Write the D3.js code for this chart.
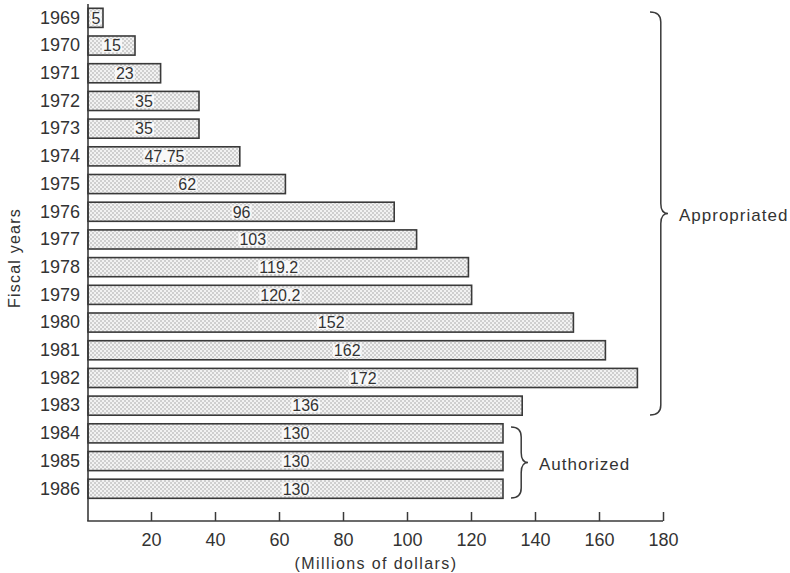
<!DOCTYPE html>
<html>
<head>
<meta charset="utf-8">
<script src="https://cdn.jsdelivr.net/npm/d3@7"></script>
<style>
  html, body { margin: 0; padding: 0; background: #fff; }
  svg { display: block; }
  text { font-family: "Liberation Sans", Arial, sans-serif; fill: #333; }
</style>
</head>
<body>
<svg id="chart" width="790" height="573"></svg>
<script>
// Fiscal-year funding, millions of dollars
const years = ["1969","1970","1971","1972","1973","1974","1975","1976","1977",
               "1978","1979","1980","1981","1982","1983","1984","1985","1986"];
const amounts = [5, 15, 23, 35, 35, 47.75, 62, 96, 103,
                 119.2, 120.2, 152, 162, 172, 136, 130, 130, 130];
const amountLabels = ["5","15","23","35","35","47.75","62","96","103",
                      "119.2","120.2","152","162","172","136","130","130","130"];
const xTicks = [20, 40, 60, 80, 100, 120, 140, 160, 180];
const groups = [
  { name: "Appropriated", first: "1969", last: "1983" },
  { name: "Authorized",   first: "1984", last: "1986" }
];

const svg = d3.select("#chart");
const FONT = '"Liberation Sans", Arial, sans-serif';

const x = d3.scaleLinear().domain([0, 180]).range([87, 663]);
const y = d3.scaleBand().domain(years).range([4, 502.6])
  .paddingInner(0.31).paddingOuter(0.155);

const ink = "#3a3a3a";

// stipple fill
const defs = svg.append("defs");
const pat = defs.append("pattern")
  .attr("id", "stipple").attr("patternUnits", "userSpaceOnUse")
  .attr("width", 4).attr("height", 4);
pat.append("rect").attr("width", 4).attr("height", 4).attr("fill", "#f2f2f2");
pat.append("circle").attr("cx", 1).attr("cy", 1).attr("r", 0.75).attr("fill", "#9c9c9c");
pat.append("circle").attr("cx", 3).attr("cy", 3).attr("r", 0.75).attr("fill", "#9c9c9c");

const rows = years.map((yr, i) => ({ year: yr, value: amounts[i], label: amountLabels[i] }));

// bars
svg.append("g").selectAll("rect").data(rows).join("rect")
  .attr("x", x(0) + 1)
  .attr("y", d => y(d.year))
  .attr("width", d => x(d.value) - x(0) - 1)
  .attr("height", y.bandwidth())
  .attr("fill", "url(#stipple)")
  .attr("stroke", ink).attr("stroke-width", 1.6);

// value labels with knocked-out background
const lab = svg.append("g").selectAll("g").data(rows).join("g")
  .attr("transform", d => `translate(${(x(0) + x(d.value)) / 2 + 1},${y(d.year) + y.bandwidth() / 2})`);
lab.append("text")
  .attr("text-anchor", "middle").attr("dy", "0.36em")
  .attr("font-size", 16)
  .text(d => d.label)
  .each(function () {
    const b = this.getBBox();
    d3.select(this.parentNode).insert("rect", "text")
      .attr("x", b.x - 1).attr("y", b.y + 2)
      .attr("width", b.width + 2).attr("height", b.height - 4)
      .attr("fill", "#f8f8f8");
  });

// left axis: year labels, line
svg.append("line")
  .attr("x1", x(0) + 1).attr("x2", x(0) + 1)
  .attr("y1", 4).attr("y2", 521)
  .attr("stroke", ink).attr("stroke-width", 1.6);

const yAxis = d3.axisLeft(y).tickSize(0).tickPadding(7);
const gy = svg.append("g").attr("transform", `translate(${x(0)},0)`).call(yAxis);
gy.select(".domain").remove();
gy.selectAll("text").attr("font-size", 18).attr("fill", ink).style("font-family", FONT);

// bottom axis with inward ticks
const xAxis = d3.axisBottom(x).tickValues(xTicks).tickSize(-9).tickPadding(12)
  .tickFormat(d3.format("d"));
const gx = svg.append("g").attr("transform", "translate(0,521)").call(xAxis);
gx.select(".domain").attr("d", `M${x(0) + 0.2},0H${x(180)}`)
  .attr("stroke", ink).attr("stroke-width", 1.6);
gx.selectAll(".tick line").attr("stroke", ink).attr("stroke-width", 1.5);
gx.selectAll("text").attr("font-size", 18).attr("fill", ink).style("font-family", FONT);

// axis titles
svg.append("text")
  .attr("x", (x(0) + x(180)) / 2 + 1).attr("y", 569)
  .attr("text-anchor", "middle").attr("font-size", 16)
  .style("letter-spacing", "1.4px")
  .text("(Millions of dollars)");
svg.append("text")
  .attr("transform", "translate(20,258) rotate(-90)")
  .attr("text-anchor", "middle").attr("font-size", 16)
  .style("letter-spacing", "1.2px")
  .text("Fiscal years");

// curly braces marking the funding status groups
function brace(x0, y0, y1, w) {
  const m = (y0 + y1) / 2, c = w * 0.6, t = w * 0.4;
  return `M${x0},${y0}` +
    `Q${x0 + c},${y0} ${x0 + c},${y0 + 10}` +
    `L${x0 + c},${m - 10}` +
    `Q${x0 + c},${m} ${x0 + c + t},${m}` +
    `Q${x0 + c},${m} ${x0 + c},${m + 10}` +
    `L${x0 + c},${y1 - 10}` +
    `Q${x0 + c},${y1} ${x0},${y1}`;
}
const braceGeom = {
  Appropriated: { x0: 650, top: 12, bottom: 415, w: 18 },
  Authorized:   { x0: 511, top: 427, bottom: 498, w: 17 }
};
groups.forEach(g => {
  const b = braceGeom[g.name];
  svg.append("path").attr("d", brace(b.x0, b.top, b.bottom, b.w))
    .attr("fill", "none").attr("stroke", ink).attr("stroke-width", 1.5);
  svg.append("text")
    .attr("x", b.x0 + b.w + 11).attr("y", (b.top + b.bottom) / 2 + 1)
    .attr("dy", "0.36em").attr("font-size", 17)
    .style("letter-spacing", "1px")
    .text(g.name);
});
</script>
</body>
</html>
